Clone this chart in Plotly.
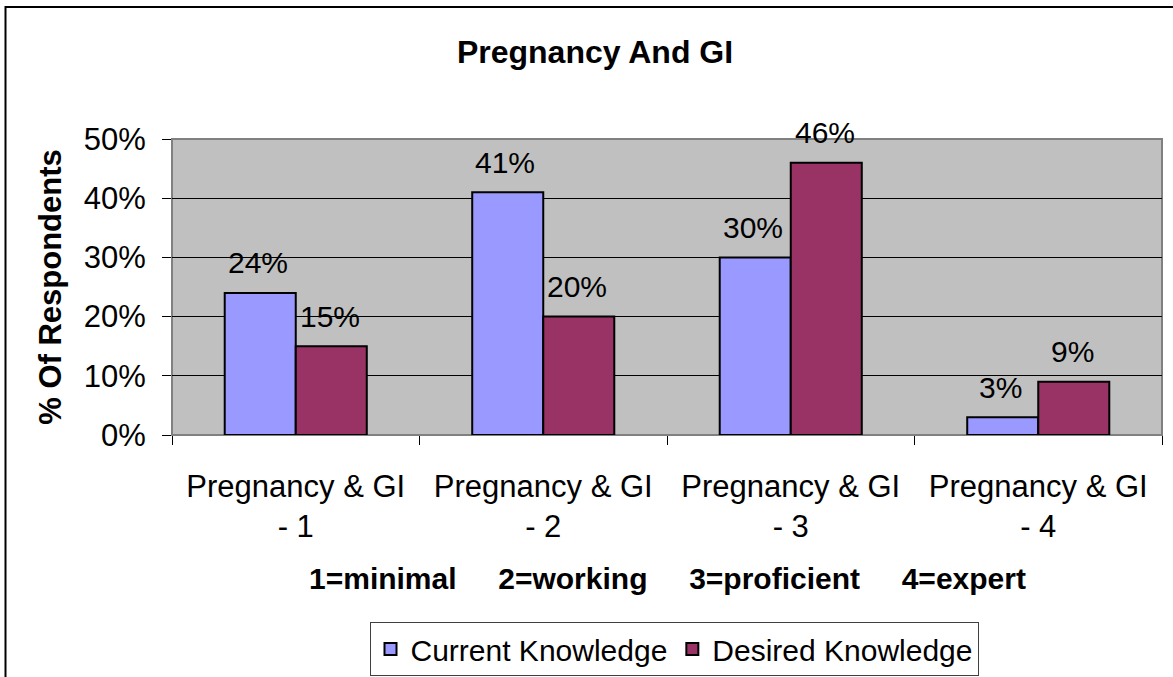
import plotly.graph_objects as go

categories = ["Pregnancy & GI<br>- 1", "Pregnancy & GI<br>- 2", "Pregnancy & GI<br>- 3", "Pregnancy & GI<br>- 4"]
current = [24, 41, 30, 3]
desired = [15, 20, 46, 9]
series_names = ["Current Knowledge", "Desired Knowledge"]
colors = ["#9999FF", "#993366"]
y_ticks = [0, 10, 20, 30, 40, 50]
y_ticktext = ["0%", "10%", "20%", "30%", "40%", "50%"]
x_title = "1=minimal     2=working     3=proficient     4=expert"

FONT = "Liberation Sans, Arial, sans-serif"

fig = go.Figure()
for name, vals, col in zip(series_names, [current, desired], colors):
    fig.add_trace(go.Bar(
        x=categories, y=vals, name=name,
        marker=dict(color=col, line=dict(color="black", width=2)),
    ))

# data labels
annotations = []
for vals, shift in [(current, -38), (desired, 34)]:
    for c, v in zip(categories, vals):
        annotations.append(dict(
            x=c, y=v, xref="x", yref="y", text=f"{v}%", showarrow=False,
            xshift=shift, yshift=30, yanchor="middle",
            font=dict(family=FONT, size=30, color="black"),
        ))

annotations.append(dict(
    x=0.5, y=(435 - 578) / 296, xref="paper", yref="paper",
    text=f"<b>{x_title}</b>",
    showarrow=False, yanchor="middle", xanchor="center",
    font=dict(family=FONT, size=30, color="black"),
))

shapes = [
    dict(type="rect", xref="paper", yref="paper", x0=0, x1=1, y0=0, y1=1,
         line=dict(color="#808080", width=2), layer="below"),
    dict(type="rect", xref="paper", yref="paper",
         x0=(5.5 - 172) / 990, x1=(1190 - 172) / 990,
         y0=(435 - 700) / 296, y1=(435 - 7) / 296,
         line=dict(color="black", width=2), fillcolor="rgba(0,0,0,0)"),
]

fig.update_layout(
    width=1173, height=677,
    margin=dict(l=172, r=11, t=139, b=242, autoexpand=False),
    paper_bgcolor="white", plot_bgcolor="#C0C0C0",
    barmode="group", bargap=0.426, bargroupgap=0,
    font=dict(family=FONT, size=30, color="black"),
    title=dict(text="<b>Pregnancy And GI</b>", x=595 / 1173, xanchor="center",
               y=1 - 52 / 677, yanchor="middle", yref="container",
               font=dict(family=FONT, size=32, color="black")),
    showlegend=True,
    legend=dict(orientation="h", x=(674 - 172) / 990, xanchor="center",
                y=(435 - 622) / 296, yanchor="top",
                bordercolor="#404040", borderwidth=1, bgcolor="white",
                font=dict(family=FONT, size=30, color="black"),
                itemsizing="constant", traceorder="normal", itemwidth=30),
    annotations=annotations,
    shapes=shapes,
)
fig.update_yaxes(range=[0, 50], tickvals=y_ticks, ticktext=y_ticktext,
                 showgrid=True, gridcolor="black", gridwidth=1, zeroline=False,
                 ticks="outside", ticklen=9, tickcolor="black", tickwidth=1,
                 showline=False, ticklabelstandoff=10,
                 tickfont=dict(family=FONT, size=31, color="black"),
                 title=dict(text="<b>% Of Respondents</b>", standoff=12,
                            font=dict(family=FONT, size=31, color="black")))
fig.update_xaxes(tickson="boundaries", ticks="outside", ticklen=9, tickcolor="black",
                 showgrid=False, showline=False,
                 ticklabelstandoff=30,
                 tickfont=dict(family=FONT, size=31, color="black"))

fig.write_html("out.html", config={"displayModeBar": False},
               post_script="document.body.style.margin='0px';document.body.style.overflow='hidden';")
